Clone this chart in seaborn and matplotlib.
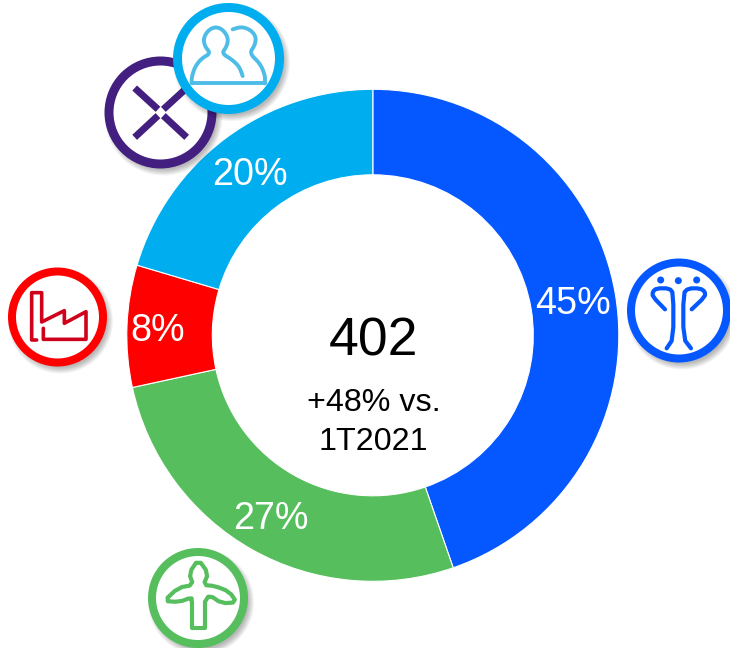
import matplotlib
matplotlib.use("Agg")
import matplotlib.pyplot as plt
from matplotlib.patches import Circle
import seaborn as sns

# data
shares = [44.7, 26.9, 8.0, 20.4]
share_labels = ["45%", "27%", "8%", "20%"]
slice_colors = ["#0558FF", "#57BE5E", "#FF0000", "#00AEEF"]
total_label = "402"
change_lines = ["+48% vs.", "1T2021"]

sns.set_theme(style="white")
plt.rcParams['font.family'] = ['Liberation Sans', 'DejaVu Sans']


def badge(ax, cx, cy, r, ring, color, z):
    # soft drop shadow, stacked translucent discs
    for k in range(7):
        ax.add_patch(Circle((cx + 3, cy + 4), r + 3 - k, fc="black", ec="none", alpha=0.045, zorder=z))
    lw = ring * 72 / 100
    ax.add_patch(Circle((cx, cy), r - ring / 2, fc="white", ec=color, lw=lw, zorder=z + 0.1))


def soften(pts, rounds=2):
    # corner cutting, ends stay where they are
    for _ in range(rounds):
        out = [pts[0]]
        for a, b in zip(pts[:-1], pts[1:]):
            out.append((0.75 * a[0] + 0.25 * b[0], 0.75 * a[1] + 0.25 * b[1]))
            out.append((0.25 * a[0] + 0.75 * b[0], 0.25 * a[1] + 0.75 * b[1]))
        out.append(pts[-1])
        pts = out
    return pts


def glyph(ax, ox, oy, pts, color, lw, z, cap="round"):
    # pts are in 3x zoom pixels, relative to the corner ox, oy
    xs = [ox + p[0] / 3 for p in pts]
    ys = [oy + p[1] / 3 for p in pts]
    ax.plot(xs, ys, color=color, lw=lw, zorder=z + 0.2, solid_capstyle=cap, solid_joinstyle="round")


f = plt.figure(figsize=(7.3, 6.48), dpi=100)
ax = f.add_axes([0, 0, 1, 1])

# y axis runs downwards here, so counterclock=True draws clockwise on screen
wedges, _ = ax.pie(shares, colors=sns.color_palette(slice_colors), startangle=-90, counterclock=True,
                   center=(372.8, 335.3), radius=246,
                   wedgeprops=dict(width=246 - 160.5, edgecolor="white", linewidth=0.8))
ax.set_xlim(0, 730)
ax.set_ylim(648, 0)
ax.axis("off")

# labels on the ring, x centre and baseline
label_pos = [(572.5, 314), (271, 529), (157.5, 341), (250, 185)]
for (x, y), s in zip(label_pos, share_labels):
    ax.text(x, y, s, color="white", fontsize=27.2, ha="center", va="baseline", zorder=3)

ax.text(373, 356, total_label, color="black", fontsize=38.5, ha="center", va="baseline")
ax.text(373.5, 411, change_lines[0], color="black", fontsize=23.2, ha="center", va="baseline")
ax.text(373, 449.5, change_lines[1], color="black", fontsize=23.2, ha="center", va="baseline")

# merger icon (purple)
purple = "#431F80"
badge(ax, 160.5, 112.5, 56, 9, purple, 4)
for seg in ([(134, 264), (204, 328)], [(220, 328), (290, 264)],
            [(204, 347), (134, 412)], [(220, 347), (290, 412)]):
    glyph(ax, 90, 0, seg, purple, 5, 4, cap="butt")

# people icon (cyan)
cyan = "#00AEEF"
light = "#4DBDE8"
badge(ax, 228.5, 58.5, 55.5, 9, cyan, 5)
glyph(ax, 90, 0, soften([(458, 228), (448, 200), (425, 178), (395, 160), (410, 140), (415, 115), (400, 90),
                         (378, 80), (355, 90), (340, 115), (345, 140), (362, 160), (335, 175), (315, 200),
                         (305, 232), (305, 250)]), light, 2.8, 5)
glyph(ax, 90, 0, [(305, 250), (525, 250)], light, 2.8, 5)
glyph(ax, 90, 0, soften([(525, 250), (525, 225), (510, 190), (478, 160), (495, 135), (498, 110), (482, 90),
                         (455, 80), (428, 88)]), light, 2.8, 5)

# factory icon (red)
red = "#FF0000"
badge(ax, 57.5, 317, 49.5, 8, red, 4)
glyph(ax, 0, 260, [(110, 240), (95, 240), (95, 98), (125, 98), (125, 186), (193, 152), (193, 190),
                   (258, 155), (258, 238), (130, 238), (130, 205)], "#D0021B", 2.6, 4)

# wind turbine icon (green)
green = "#57BE5E"
badge(ax, 198, 598, 50, 8, green, 4)
glyph(ax, 140, 540, soften([(195, 185), (195, 185), (208, 165), (245, 190), (290, 187), (268, 155), (225, 138),
                            (190, 135), (205, 100), (175, 58), (147, 100), (160, 135), (115, 143),
                            (72, 183), (118, 186), (155, 172), (155, 185), (155, 185)], 1), green, 3, 4)
glyph(ax, 140, 540, [(155, 185), (155, 265), (195, 265), (195, 185)], green, 3, 4)

# anchor figure icon (blue)
blue = "#0558FF"
badge(ax, 679, 310.5, 52, 8, blue, 4)
glyph(ax, 610, 250, soften([(165, 178), (128, 140), (128, 125), (140, 115), (178, 115), (190, 130), (190, 265),
                            (170, 295)], 1), blue, 3, 4)
glyph(ax, 610, 250, soften([(245, 178), (285, 140), (285, 125), (270, 115), (235, 115), (220, 130), (220, 265),
                            (243, 295)], 1), blue, 3, 4)
for dot_x, dot_y in [(152, 90), (205, 92), (260, 90)]:
    ax.add_patch(Circle((610 + dot_x / 3, 250 + dot_y / 3), 3.5, fc=blue, ec="none", zorder=4.3))

plt.savefig("out.png", dpi=100)
